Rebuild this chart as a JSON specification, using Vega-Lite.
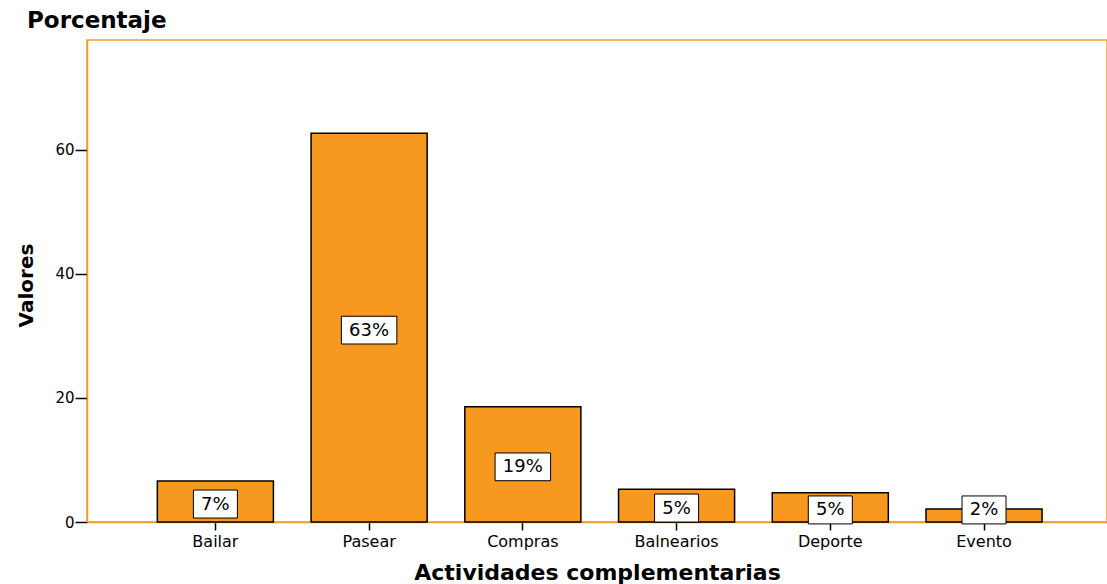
{
  "$schema": "https://vega.github.io/schema/vega-lite/v6.json",
  "width": 1020,
  "height": 482,
  "autosize": {"type": "none"},
  "padding": {"left": 87, "top": 40, "right": 0, "bottom": 62},
  "background": "white",
  "title": {
    "text": "Porcentaje",
    "anchor": "start",
    "frame": "group",
    "dx": -60,
    "dy": 25,
    "offset": 14,
    "baseline": "alphabetic",
    "font": "DejaVu Sans",
    "fontSize": 23,
    "fontWeight": "bold",
    "color": "black"
  },
  "config": {
    "view": {"stroke": "#F39A26", "strokeWidth": 1.5},
    "axis": {
      "labelFont": "DejaVu Sans",
      "labelFontSize": 15,
      "labelColor": "black",
      "titleFont": "DejaVu Sans",
      "titleFontSize": 20,
      "titleFontWeight": "bold",
      "titleColor": "black",
      "domainColor": "#F39A26",
      "domainWidth": 1.5,
      "tickColor": "black",
      "tickWidth": 1.5,
      "grid": false
    }
  },
  "data": {
    "values": [
      {"actividad": "Bailar", "valor": 6.6},
      {"actividad": "Pasear", "valor": 62.7},
      {"actividad": "Compras", "valor": 18.6},
      {"actividad": "Balnearios", "valor": 5.3},
      {"actividad": "Deporte", "valor": 4.7},
      {"actividad": "Evento", "valor": 2.1}
    ]
  },
  "transform": [
    {"calculate": "format(datum.valor, '.0f') + '%'", "as": "etiqueta"},
    {"calculate": "max(datum.valor / 2, 2.35)", "as": "posEtiqueta"}
  ],
  "encoding": {
    "x": {
      "field": "actividad",
      "type": "nominal",
      "sort": null,
      "scale": {"paddingInner": 0.245, "paddingOuter": 0.44, "align": 0.52},
      "axis": {
        "title": "Actividades complementarias",
        "titleFontSize": 22,
        "labelAngle": 0,
        "labelFontSize": 16,
        "tickSize": 8,
        "labelPadding": 3,
        "titleY": 57,
        "titleBaseline": "alphabetic"
      }
    }
  },
  "layer": [
    {
      "mark": {"type": "bar", "fill": "#F7991F", "stroke": "black", "strokeWidth": 1.5},
      "encoding": {
        "y": {
          "field": "valor",
          "type": "quantitative",
          "scale": {"domain": [0, 77.74], "nice": false},
          "axis": {
            "title": "Valores",
            "values": [0, 20, 40, 60],
            "tickSize": 12,
            "labelPadding": 1,
            "titleX": -55,
            "titleY": 245,
            "titleBaseline": "alphabetic"
          }
        }
      }
    },
    {
      "transform": [{"filter": "datum.valor < 9.5"}],
      "mark": {
        "type": "point",
        "shape": "M-1,-0.636H1V0.636H-1Z",
        "size": 1936,
        "filled": true,
        "fill": "white",
        "stroke": "black",
        "strokeWidth": 1,
        "opacity": 1,
        "yOffset": 2.5
      },
      "encoding": {
        "y": {"field": "posEtiqueta", "type": "quantitative"}
      }
    },
    {
      "transform": [{"filter": "datum.valor >= 9.5"}],
      "mark": {
        "type": "point",
        "shape": "M-1,-0.5H1V0.5H-1Z",
        "size": 3080,
        "filled": true,
        "fill": "white",
        "stroke": "black",
        "strokeWidth": 1,
        "opacity": 1,
        "yOffset": 2.5
      },
      "encoding": {
        "y": {"field": "posEtiqueta", "type": "quantitative"}
      }
    },
    {
      "mark": {
        "type": "text",
        "font": "DejaVu Sans",
        "fontSize": 18,
        "color": "black",
        "baseline": "middle",
        "align": "center",
        "yOffset": 3
      },
      "encoding": {
        "y": {"field": "posEtiqueta", "type": "quantitative"},
        "text": {"field": "etiqueta", "type": "nominal"}
      }
    }
  ]
}
